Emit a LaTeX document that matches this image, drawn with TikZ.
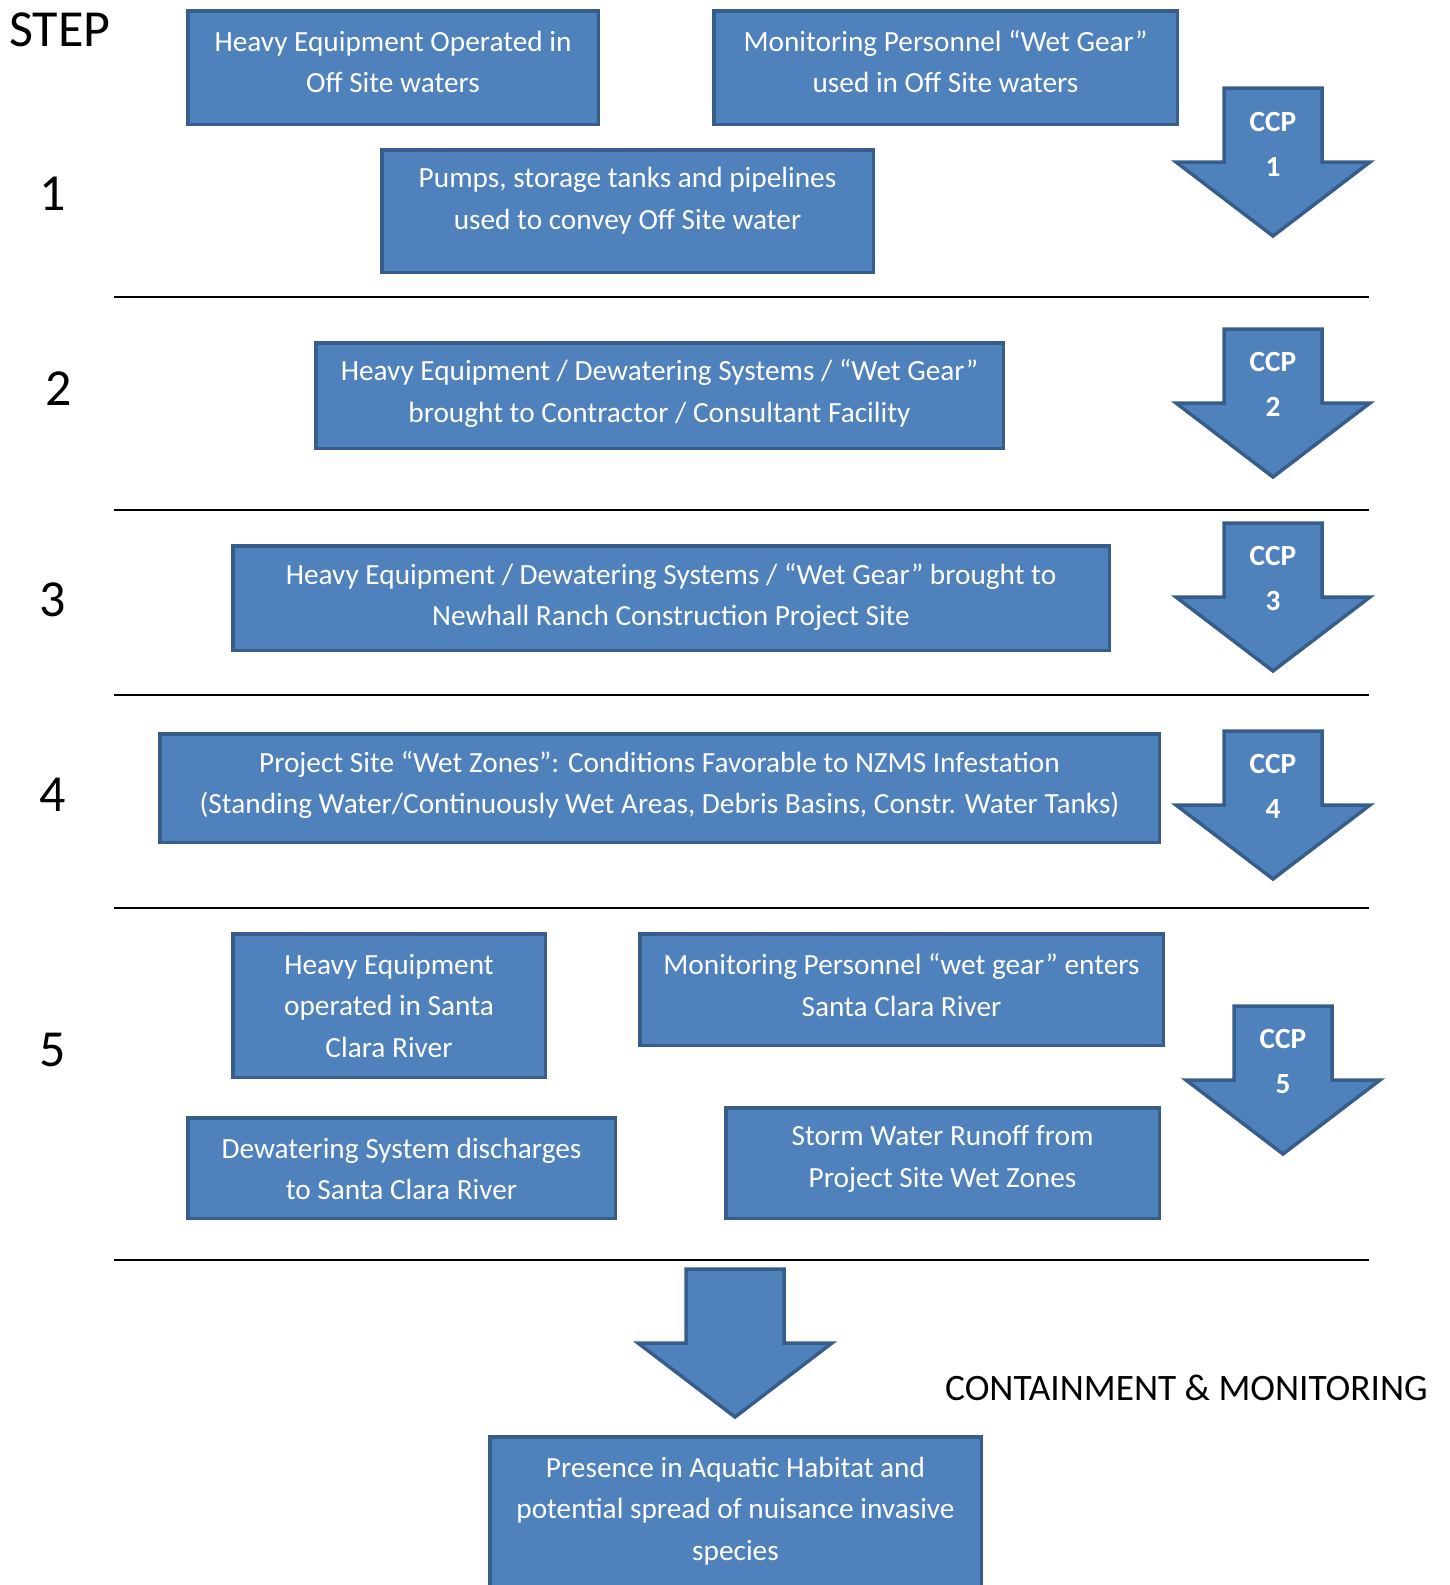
\documentclass[tikz,border=0pt]{standalone}
\usepackage{fontspec}
\setmainfont{Carlito}
\definecolor{boxfill}{HTML}{4F81BD}
\definecolor{boxline}{HTML}{385D8A}
\begin{document}
\begin{tikzpicture}[x=1pt,y=-1pt,
  box/.style={draw=boxline, fill=boxfill, line width=3.5pt, inner sep=0pt, line join=miter},
  btxt/.style={text=white, align=center, inner sep=0pt, font=\fontsize{29.3}{41.5}\selectfont},
  ctxt/.style={text=white, align=center, inner sep=0pt, font=\fontsize{29.3}{44.5}\selectfont\bfseries},
  steplbl/.style={inner sep=0pt, font=\fontsize{52}{60}\selectfont},
  sepline/.style={line width=2pt, black},
  blockarrow/.pic={\path[box] (-49,0) -- (49,0) -- (49,74) -- (97,74) -- (0,148) -- (-97,74) -- (-49,74) -- cycle;}
]
\useasboundingbox (0,0) rectangle (1450,1585);

% step labels
\node[steplbl] (step) at (60,30) {STEP};
\node[steplbl] (s1) at (53,194) {1};
\node[steplbl] (s2) at (59,389) {2};
\node[steplbl] (s3) at (53,600) {3};
\node[steplbl] (s4) at (53,795) {4};
\node[steplbl] (s5) at (53,1050) {5};

% separator lines
\coordinate (l1a) at (114,297);  \coordinate (l1b) at (1369,297);
\coordinate (l2a) at (114,510);  \coordinate (l2b) at (1369,510);
\coordinate (l3a) at (114,695);  \coordinate (l3b) at (1369,695);
\coordinate (l4a) at (114,908);  \coordinate (l4b) at (1369,908);
\coordinate (l5a) at (114,1260); \coordinate (l5b) at (1369,1260);
\draw[sepline] (l1a) -- (l1b);
\draw[sepline] (l2a) -- (l2b);
\draw[sepline] (l3a) -- (l3b);
\draw[sepline] (l4a) -- (l4b);
\draw[sepline] (l5a) -- (l5b);

% boxes
\node[box, minimum width=410.5, minimum height=113.5] (A) at (393,67.5) {};
\node[btxt] (At) at (393,61.75) {Heavy Equipment Operated in\\Off Site waters};

\node[box, minimum width=463.5, minimum height=113.5] (B) at (945.5,67.5) {};
\node[btxt] (Bt) at (945.5,61.75) {Monitoring Personnel “Wet Gear”\\used in Off Site waters};

\node[box, minimum width=491.5, minimum height=122.5] (C) at (627.5,211) {};
\node[btxt] (Ct) at (627.5,200.75) {Pumps, storage tanks and pipelines\\used to convey Off Site water};

\node[box, minimum width=687.5, minimum height=105.5] (D) at (659.5,395.5) {};
\node[btxt] (Dt) at (659.5,393.5) {Heavy Equipment / Dewatering Systems / “Wet Gear”\\brought to Contractor / Consultant Facility};

\node[box, minimum width=876.5, minimum height=104.5] (E) at (671,598) {};
\node[btxt] (Et) at (671,597) {Heavy Equipment / Dewatering Systems / “Wet Gear” brought to\\Newhall Ranch Construction Project Site};

\node[box, minimum width=999.5, minimum height=108.5] (F) at (659.5,788) {};
\node[btxt] (Ft) at (659.5,785) {Project Site “Wet Zones”: Conditions Favorable to NZMS Infestation\\(Standing Water/Continuously Wet Areas, Debris Basins, Constr. Water Tanks)};

\node[box, minimum width=312.5, minimum height=143.5] (G) at (389,1005.5) {};
\node[btxt] (Gt) at (389,1006) {Heavy Equipment\\operated in Santa\\Clara River};

\node[box, minimum width=523.5, minimum height=111.5] (H) at (901.5,989.5) {};
\node[btxt] (Ht) at (901.5,985) {Monitoring Personnel “wet gear” enters\\Santa Clara River};

\node[box, minimum width=427.5, minimum height=100.5] (I) at (401.5,1168) {};
\node[btxt] (It) at (401.5,1169) {Dewatering System discharges\\to Santa Clara River};

\node[box, minimum width=433.5, minimum height=110.5] (J) at (942.5,1163) {};
\node[btxt] (Jt) at (942.5,1159) {Storm Water Runoff from\\Project Site Wet Zones};

\node[box, minimum width=491.5, minimum height=163] (K) at (735.5,1518.5) {};
\node[btxt] (Kt) at (735.5,1511) {Presence in Aquatic Habitat and\\potential spread of nuisance invasive\\species};

% CCP arrows
\pic (ccp1) at (1273,88) {blockarrow};
\node[ctxt] (c1) at (1273,144.5) {CCP\\1};
\pic (ccp2) at (1273,329) {blockarrow};
\node[ctxt] (c2) at (1273,384.5) {CCP\\2};
\pic (ccp3) at (1273,523) {blockarrow};
\node[ctxt] (c3) at (1273,578.5) {CCP\\3};
\pic (ccp4) at (1273,731) {blockarrow};
\node[ctxt] (c4) at (1273,786.5) {CCP\\4};
\pic (ccp5) at (1283,1006) {blockarrow};
\node[ctxt] (c5) at (1283,1061.5) {CCP\\5};

% final arrow
\pic (final) at (735,1269) {blockarrow};

\node[inner sep=0pt, font=\fontsize{37.3}{44}\selectfont, anchor=west] (cm) at (945,1388) {CONTAINMENT \& MONITORING};
\end{tikzpicture}
\end{document}
